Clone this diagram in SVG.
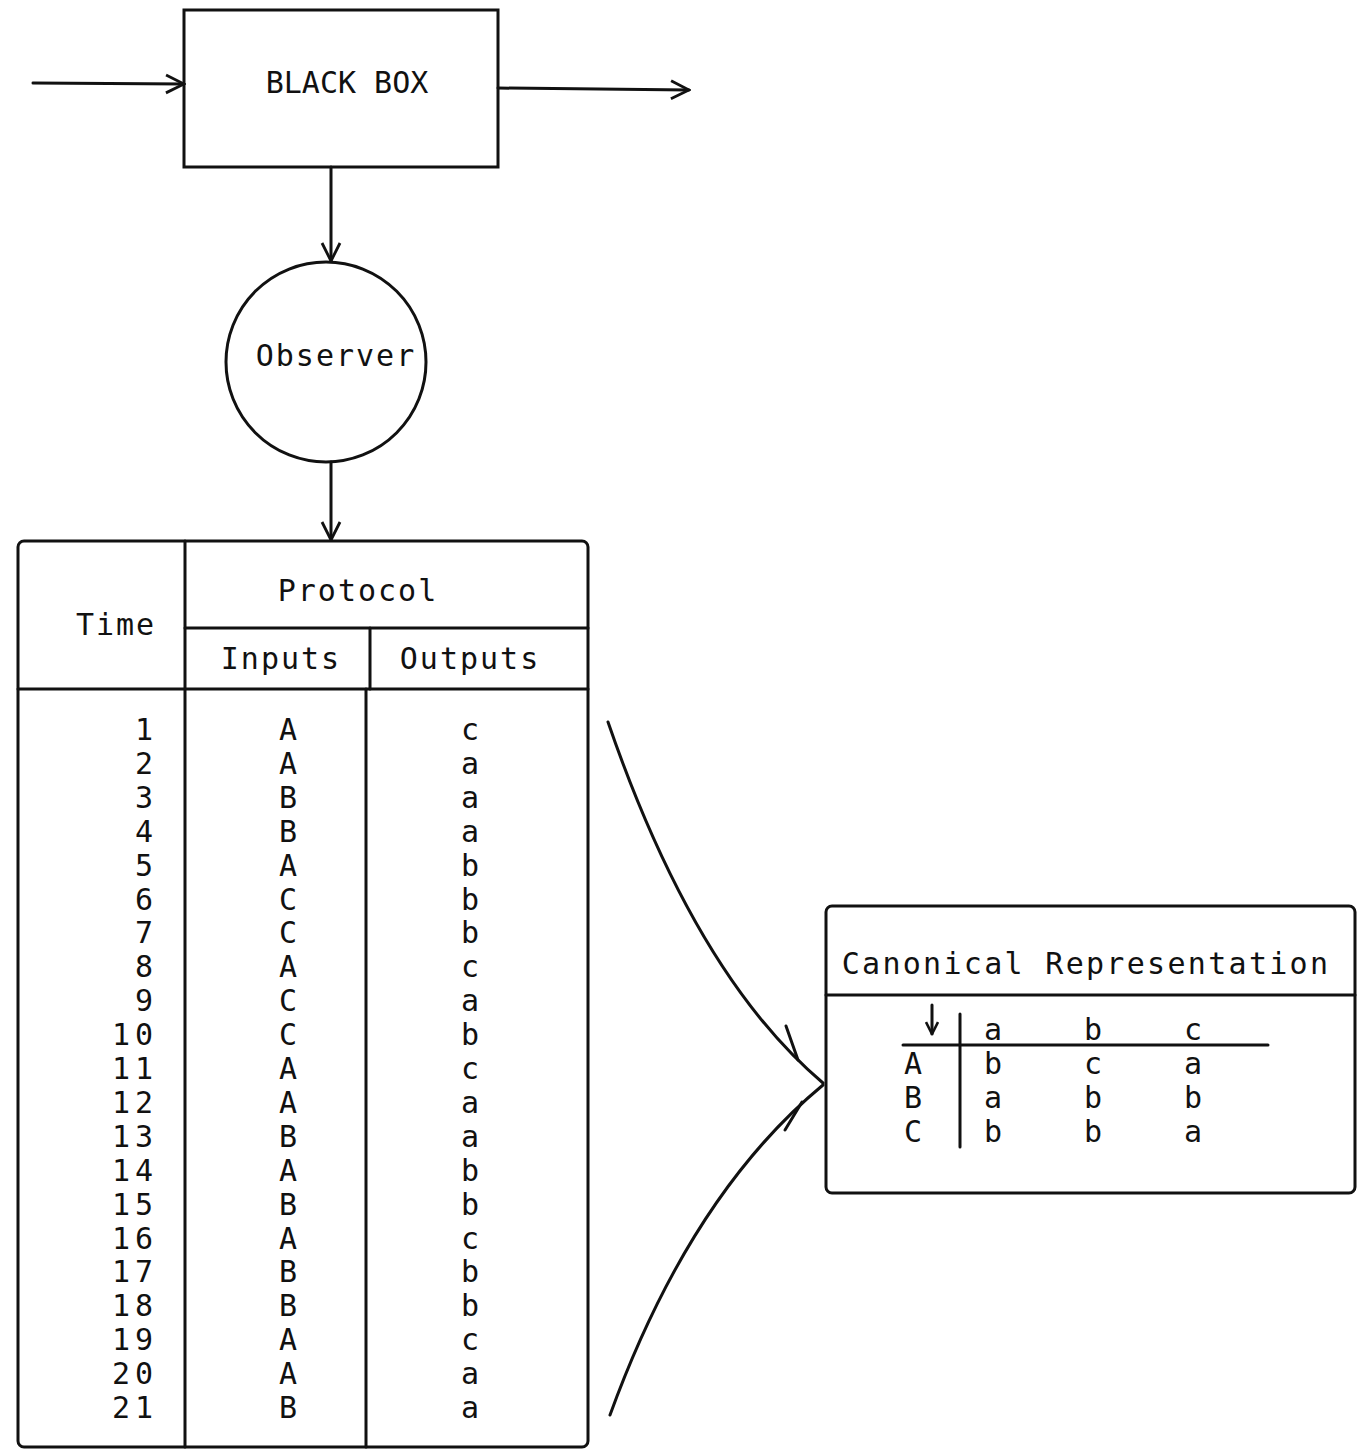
<svg xmlns="http://www.w3.org/2000/svg" width="1362" height="1449" viewBox="0 0 1362 1449">
<style>
.ln{fill:none;stroke:#111;stroke-width:3;stroke-linecap:round}
.t{font-family:"DejaVu Sans Mono","Liberation Mono",monospace;font-size:30px;fill:#111;letter-spacing:2px}
.c{text-anchor:middle}
.n{text-anchor:end;letter-spacing:5px}
</style>
<defs>
<marker id="ah" viewBox="0 0 14 14" refX="13" refY="7" markerWidth="14" markerHeight="14" markerUnits="userSpaceOnUse" orient="auto">
<path d="M1,1 L13,7 L1,13" fill="none" stroke="#111" stroke-width="2.6"/>
</marker>
<marker id="ah2" viewBox="0 0 22 22" refX="20" refY="11" markerWidth="22" markerHeight="22" markerUnits="userSpaceOnUse" orient="auto">
<path d="M2,2 L20,11 L2,20" fill="none" stroke="#111" stroke-width="2.8"/>
</marker>
</defs>
<rect width="1362" height="1449" fill="#fff"/>

<g id="connectors">
<line class="ln" x1="33" y1="83" x2="184" y2="84" marker-end="url(#ah2)"/>
<line class="ln" x1="498" y1="88" x2="689" y2="90" marker-end="url(#ah2)"/>
<line class="ln" x1="331" y1="167" x2="331" y2="261" marker-end="url(#ah2)"/>
<line class="ln" x1="331" y1="462" x2="331" y2="540" marker-end="url(#ah2)"/>
<path class="ln" d="M608,722 Q695,975 823,1083"/>
<path class="ln" d="M786,1026 L798,1060"/>
<path class="ln" d="M610,1415 Q690,1195 823,1085"/>
<path class="ln" d="M785,1130 L802,1102"/>
</g>

<g id="blackbox">
<rect class="ln" x="184" y="10" width="314" height="157"/>
<text class="t c" x="347" y="93" style="letter-spacing:0">BLACK BOX</text>
</g>

<g id="observer">
<circle class="ln" cx="326" cy="362" r="100"/>
<text class="t c" x="336" y="366">Observer</text>
</g>

<g id="protocol">
<rect class="ln" x="18" y="541" width="570" height="906" rx="6"/>
<line class="ln" x1="185" y1="541" x2="185" y2="1447"/>
<line class="ln" x1="185" y1="628" x2="588" y2="628"/>
<line class="ln" x1="370" y1="628" x2="370" y2="689"/>
<line class="ln" x1="366" y1="689" x2="366" y2="1447"/>
<line class="ln" x1="18" y1="689" x2="588" y2="689"/>
<text class="t c" x="116" y="635">Time</text>
<text class="t c" x="358" y="601">Protocol</text>
<text class="t c" x="281" y="669">Inputs</text>
<text class="t c" x="470" y="669">Outputs</text>
<g class="t n">
<text x="158" y="740">1</text>
<text x="158" y="774">2</text>
<text x="158" y="808">3</text>
<text x="158" y="842">4</text>
<text x="158" y="876">5</text>
<text x="158" y="910">6</text>
<text x="158" y="943">7</text>
<text x="158" y="977">8</text>
<text x="158" y="1011">9</text>
<text x="158" y="1045">10</text>
<text x="158" y="1079">11</text>
<text x="158" y="1113">12</text>
<text x="158" y="1147">13</text>
<text x="158" y="1181">14</text>
<text x="158" y="1215">15</text>
<text x="158" y="1249">16</text>
<text x="158" y="1282">17</text>
<text x="158" y="1316">18</text>
<text x="158" y="1350">19</text>
<text x="158" y="1384">20</text>
<text x="158" y="1418">21</text>
</g>
<g class="t c" style="letter-spacing:0">
<text x="288" y="740">A</text>
<text x="288" y="774">A</text>
<text x="288" y="808">B</text>
<text x="288" y="842">B</text>
<text x="288" y="876">A</text>
<text x="288" y="910">C</text>
<text x="288" y="943">C</text>
<text x="288" y="977">A</text>
<text x="288" y="1011">C</text>
<text x="288" y="1045">C</text>
<text x="288" y="1079">A</text>
<text x="288" y="1113">A</text>
<text x="288" y="1147">B</text>
<text x="288" y="1181">A</text>
<text x="288" y="1215">B</text>
<text x="288" y="1249">A</text>
<text x="288" y="1282">B</text>
<text x="288" y="1316">B</text>
<text x="288" y="1350">A</text>
<text x="288" y="1384">A</text>
<text x="288" y="1418">B</text>
<text x="470" y="740">c</text>
<text x="470" y="774">a</text>
<text x="470" y="808">a</text>
<text x="470" y="842">a</text>
<text x="470" y="876">b</text>
<text x="470" y="910">b</text>
<text x="470" y="943">b</text>
<text x="470" y="977">c</text>
<text x="470" y="1011">a</text>
<text x="470" y="1045">b</text>
<text x="470" y="1079">c</text>
<text x="470" y="1113">a</text>
<text x="470" y="1147">a</text>
<text x="470" y="1181">b</text>
<text x="470" y="1215">b</text>
<text x="470" y="1249">c</text>
<text x="470" y="1282">b</text>
<text x="470" y="1316">b</text>
<text x="470" y="1350">c</text>
<text x="470" y="1384">a</text>
<text x="470" y="1418">a</text>
</g>
</g>

<g id="canonical">
<rect class="ln" x="826" y="906" width="529" height="287" rx="6"/>
<line class="ln" x1="826" y1="995" x2="1355" y2="995"/>
<text class="t c" x="1086" y="974" style="letter-spacing:2.3px">Canonical Representation</text>
<line class="ln" x1="960" y1="1014" x2="960" y2="1147"/>
<line class="ln" x1="903" y1="1045" x2="1268" y2="1045"/>
<line class="ln" x1="932" y1="1005" x2="932" y2="1034" marker-end="url(#ah)"/>
<g class="t c" style="letter-spacing:0">
<text x="993" y="1040">a</text>
<text x="1093" y="1040">b</text>
<text x="1193" y="1040">c</text>
<text x="913" y="1074">A</text>
<text x="993" y="1074">b</text>
<text x="1093" y="1074">c</text>
<text x="1193" y="1074">a</text>
<text x="913" y="1108">B</text>
<text x="993" y="1108">a</text>
<text x="1093" y="1108">b</text>
<text x="1193" y="1108">b</text>
<text x="913" y="1142">C</text>
<text x="993" y="1142">b</text>
<text x="1093" y="1142">b</text>
<text x="1193" y="1142">a</text>
</g>
</g>
</svg>
